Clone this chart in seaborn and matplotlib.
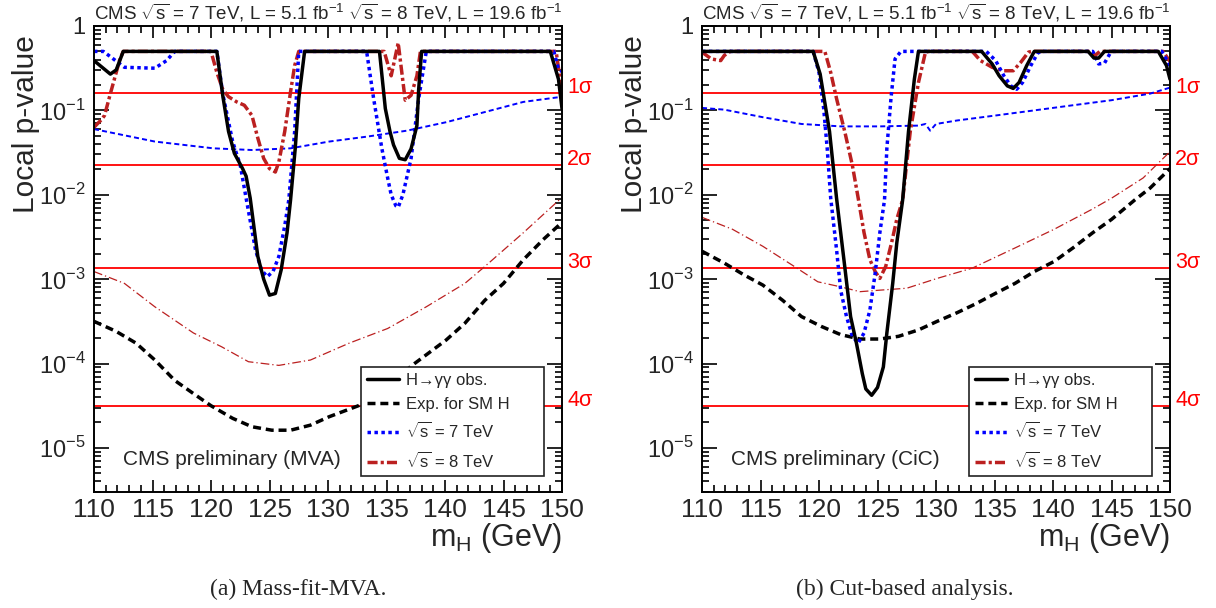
import numpy as np
import matplotlib
matplotlib.use("Agg")
import matplotlib.pyplot as plt
import matplotlib.transforms as mtransforms
from matplotlib.ticker import FixedLocator, FuncFormatter, MultipleLocator, LogLocator, NullFormatter
import seaborn as sns

# ---------------- data ----------------
# Left panel: Mass-fit-MVA
mva_obs_m = [110, 111.4, 111.9, 112.5, 120.5, 121.0, 121.5, 122.0, 122.7, 123.0, 123.35, 124.0, 124.5,
             125.0, 125.5, 126.0, 126.5, 126.8, 127.2, 127.5, 128.0, 134.4, 134.9, 135.3, 135.6, 136.1,
             136.6, 137.1, 137.6, 137.75, 138.0, 149.0, 149.7, 150]
mva_obs_p = [0.389, 0.269, 0.302, 0.5, 0.5, 0.151, 0.0562, 0.0309, 0.0204, 0.0166, 0.00912, 0.00186, 0.001,
             0.000646, 0.000676, 0.00129, 0.00355, 0.0087, 0.0355, 0.138, 0.5, 0.5, 0.105, 0.056, 0.039, 0.027,
             0.026, 0.035, 0.066, 0.178, 0.5, 0.5, 0.234, 0.105]

mva_7obs_m = [110, 110.8, 112.6, 115.2, 116.2, 116.9, 120.5, 121.0, 121.85, 122.5, 123.0, 123.8, 124.3,
              124.8, 125.3, 125.8, 126.3, 126.65, 127.15, 127.5, 133.3, 133.9, 134.6, 135.1, 135.4, 135.8,
              136.0, 136.4, 137.1, 137.75, 138.4, 149.3, 149.7, 150]
mva_7obs_p = [0.5, 0.5, 0.324, 0.316, 0.389, 0.5, 0.5, 0.158, 0.0427, 0.0224, 0.00912, 0.00224, 0.00129,
              0.00107, 0.00123, 0.00186, 0.00427, 0.0087, 0.0562, 0.5, 0.5, 0.138, 0.0355, 0.0158, 0.01, 0.0074,
              0.0071, 0.01, 0.0269, 0.138, 0.5, 0.5, 0.309, 0.288]

mva_8obs_m = [110, 110.65, 110.9, 111.4, 111.8, 112.2, 112.5, 120.0, 120.5, 121.0, 121.5, 122.2, 122.85,
              123.5, 124.0, 124.5, 125.0, 125.5, 125.8, 126.3, 126.8, 127.15, 127.5, 134.8, 135.4, 136.0,
              136.6, 137.1, 137.6, 137.9, 149.5, 150]
mva_8obs_p = [0.063, 0.078, 0.087, 0.158, 0.251, 0.398, 0.5, 0.5, 0.282, 0.178, 0.145, 0.126, 0.115,
              0.087, 0.047, 0.027, 0.0204, 0.0186, 0.0245, 0.056, 0.166, 0.339, 0.5, 0.5, 0.257, 0.63,
              0.132, 0.151, 0.257, 0.5, 0.5, 0.16]

mva_7exp_m = [110, 115.2, 120.2, 123.5, 126.8, 130.1, 133.4, 136.75, 140.1, 143.4, 146.7, 150]
mva_7exp_p = [0.060, 0.0427, 0.0355, 0.0339, 0.0355, 0.0427, 0.049, 0.0575, 0.0724, 0.0955, 0.126, 0.145]

mva_8exp_m = [110, 112.6, 115.2, 118.5, 120.9, 123.2, 125.8, 128.5, 131.8, 135.1, 138.4, 141.7, 143.4, 146.7, 150]
mva_8exp_p = [1.23e-3, 8.9e-4, 4.7e-4, 2.3e-4, 1.58e-4, 1.05e-4, 9.5e-5, 1.1e-4, 1.74e-4, 2.6e-4, 4.7e-4,
              8.9e-4, 1.41e-3, 3.55e-3, 9.3e-3]

mva_exp_m = [110, 111.9, 113.6, 115.2, 116.9, 118.5, 120.0, 121.85, 123.5, 125.2, 126.8, 128.5, 130.1,
             132.6, 135.0, 137.4, 140.1, 141.7, 143.4, 145.0, 146.7, 148.4, 150]
mva_exp_p = [3.16e-4, 2.4e-4, 1.74e-4, 1.1e-4, 6.3e-5, 4.4e-5, 3.16e-5, 2.24e-5, 1.78e-5, 1.62e-5, 1.62e-5,
             1.86e-5, 2.34e-5, 3.16e-5, 5.4e-5, 1.0e-4, 1.9e-4, 3.0e-4, 5.6e-4, 8.9e-4, 1.7e-3, 2.95e-3, 4.7e-3]

# Right panel: Cut-based (CiC)
cic_obs_m = [110, 119.5, 120.1, 120.9, 121.5, 122.2, 122.7, 123.2, 123.7, 124.0, 124.5, 125.0, 125.5, 125.8,
             126.3, 126.65, 127.15, 127.65, 128.15, 128.5, 133.9, 134.8, 135.4, 136.1, 136.6, 137.1, 137.75,
             138.4, 143.0, 143.5, 143.9, 144.4, 149.0, 149.7, 150]
cic_obs_p = [0.5, 0.5, 0.269, 0.0562, 0.00912, 0.00141, 3.6e-4, 1.74e-4, 7.6e-5, 5.0e-5, 4.2e-5, 5.2e-5, 9.1e-5,
             2.3e-4, 8.9e-4, 2.7e-3, 8.7e-3, 0.0562, 0.234, 0.5, 0.5, 0.355, 0.257, 0.195, 0.182, 0.214, 0.339,
             0.5, 0.5, 0.417, 0.417, 0.5, 0.5, 0.339, 0.234]

cic_7obs_m = [110, 119.5, 120.0, 120.4, 120.7, 121.0, 121.5, 121.85, 122.35, 122.85, 123.35, 123.85, 124.35,
              124.8, 125.2, 125.6, 125.8, 126.15, 126.5, 127.0, 134.3, 135.1, 135.8, 136.4, 136.9, 137.4, 138.1,
              138.7, 139.0, 143.4, 143.9, 144.4, 144.9, 145.1, 149.3, 150]
cic_7obs_p = [0.5, 0.5, 0.282, 0.105, 0.0355, 0.00912, 0.00224, 7.4e-4, 3.6e-4, 2.1e-4, 1.74e-4, 2.3e-4, 4.3e-4,
              1.17e-3, 3.55e-3, 8.7e-3, 0.0355, 0.138, 0.407, 0.5, 0.5, 0.389, 0.257, 0.195, 0.178, 0.214, 0.339,
              0.479, 0.5, 0.5, 0.355, 0.363, 0.479, 0.5, 0.5, 0.339]

cic_8obs_m = [110, 110.8, 111.6, 111.9, 112.4, 120.5, 121.0, 121.5, 122.2, 122.85, 123.35, 123.85, 124.35,
              124.8, 125.2, 125.7, 126.2, 126.65, 127.15, 127.8, 128.5, 129.1, 129.4, 133.1, 133.8, 134.8,
              135.8, 136.6, 137.25, 137.9, 138.2, 143.2, 143.6, 144.0, 149.4, 150]
cic_8obs_p = [0.49, 0.407, 0.389, 0.447, 0.5, 0.5, 0.282, 0.138, 0.0562, 0.0224, 0.00912, 0.00355, 0.0017,
              0.00123, 0.00102, 0.00141, 0.00269, 0.00513, 0.0087, 0.0562, 0.214, 0.49, 0.5, 0.5, 0.389, 0.324,
              0.295, 0.295, 0.372, 0.49, 0.5, 0.5, 0.447, 0.5, 0.5, 0.38]

cic_7exp_m = [110, 111.9, 115.2, 118.5, 121.85, 125.2, 128.5, 129.1, 129.5, 130.0, 131.8, 135.1, 138.4,
              141.7, 145.0, 148.3, 150]
cic_7exp_p = [0.107, 0.102, 0.083, 0.069, 0.0646, 0.0646, 0.066, 0.069, 0.0575, 0.069, 0.0759, 0.087, 0.1,
              0.115, 0.132, 0.158, 0.186]

cic_8exp_m = [110, 112.6, 115.2, 117.9, 119.9, 121.85, 123.5, 125.2, 127.5, 130.1, 133.1, 136.75, 140.1,
              143.4, 145.0, 147.7, 150]
cic_8exp_p = [5.4e-3, 3.9e-3, 2.45e-3, 1.41e-3, 9.3e-4, 8.1e-4, 7.1e-4, 7.4e-4, 7.8e-4, 1.02e-3, 1.35e-3,
              2.34e-3, 3.9e-3, 6.8e-3, 9.1e-3, 0.0158, 0.0324]

cic_exp_m = [110, 111.9, 113.6, 115.2, 116.9, 118.5, 120.2, 121.85, 123.5, 125.2, 126.8, 128.5, 130.1, 131.8,
             133.4, 135.1, 136.75, 138.4, 140.1, 141.7, 143.4, 145.0, 147.0, 148.3, 150]
cic_exp_p = [2.14e-3, 1.55e-3, 1.12e-3, 8.5e-4, 5.6e-4, 3.6e-4, 2.75e-4, 2.2e-4, 1.95e-4, 1.95e-4, 2.1e-4,
             2.5e-4, 3.16e-4, 4.0e-4, 5.1e-4, 6.8e-4, 8.9e-4, 1.23e-3, 1.62e-3, 2.34e-3, 3.55e-3, 5.1e-3, 8.7e-3,
             0.012, 0.0204]

sigma_p = [0.1587, 0.02275, 0.00135, 3.167e-5]
sigma_labels = ["1σ", "2σ", "3σ", "4σ"]

legend_labels = ["H→γγ obs.", "Exp. for SM H", r"$\sqrt{\mathrm{s}}$ = 7 TeV", r"$\sqrt{\mathrm{s}}$ = 8 TeV"]
y_ticks = [1e-5, 1e-4, 1e-3, 1e-2, 1e-1, 1]
title_text = (r"CMS $\sqrt{\mathrm{s}}$ = 7 TeV, L = 5.1 fb$^{-1}$ "
              r"$\sqrt{\mathrm{s}}$ = 8 TeV, L = 19.6 fb$^{-1}$")
panel_tags = ["CMS preliminary (MVA)", "CMS preliminary (CiC)"]
captions = ["(a) Mass-fit-MVA.", "(b) Cut-based analysis."]

# ---------------- style ----------------
sns.set_theme(style="ticks")
plt.rcParams["font.family"] = ["Liberation Sans", "DejaVu Sans"]
plt.rcParams["mathtext.fontset"] = "custom"
plt.rcParams["mathtext.rm"] = "Liberation Sans"
plt.rcParams["axes.edgecolor"] = "black"
plt.rcParams["axes.linewidth"] = 1.4

BLUE = "#0000ff"
DRED = "#bb2020"
RED = "#ff0000"

fig = plt.figure(figsize=(12.16, 6.08), dpi=100)

axes_rects = [[94 / 1216, 1 - 492 / 608, 468 / 1216, 466 / 608],
              [702 / 1216, 1 - 492 / 608, 468 / 1216, 466 / 608]]
caption_x = [298 / 1216, 905 / 1216]

panels = [
    dict(obs=(mva_obs_m, mva_obs_p), o7=(mva_7obs_m, mva_7obs_p), o8=(mva_8obs_m, mva_8obs_p),
         e7=(mva_7exp_m, mva_7exp_p), e8=(mva_8exp_m, mva_8exp_p), exp=(mva_exp_m, mva_exp_p)),
    dict(obs=(cic_obs_m, cic_obs_p), o7=(cic_7obs_m, cic_7obs_p), o8=(cic_8obs_m, cic_8obs_p),
         e7=(cic_7exp_m, cic_7exp_p), e8=(cic_8exp_m, cic_8exp_p), exp=(cic_exp_m, cic_exp_p)),
]


def line(ax, mp, color, lw, ls):
    m, p = mp
    sns.lineplot(x=m, y=p, ax=ax, color=color, lw=lw, linestyle=ls)
    return ax.lines[-1]


for i, pd_ in enumerate(panels):
    ax = fig.add_axes(axes_rects[i])
    for sp in sigma_p:
        sns.lineplot(x=[110, 150], y=[sp, sp], ax=ax, color=RED, lw=1.3)
    line(ax, pd_["e8"], DRED, 0.9, (0, (7, 2.4, 1, 2.4)))
    line(ax, pd_["e7"], BLUE, 1.4, (0, (2.6, 1.6)))
    h_exp = line(ax, pd_["exp"], "black", 2.5, (0, (2.3, 1.4)))
    h_o8 = line(ax, pd_["o8"], DRED, 2.5, (0, (2.9, 0.9, 0.9, 0.9)))
    h_o7 = line(ax, pd_["o7"], BLUE, 2.5, (0, (1, 1)))
    h_obs = line(ax, pd_["obs"], "black", 2.5, "-")

    ax.set_yscale("log")
    ax.set_xlim(110, 150)
    ax.set_ylim(3e-6, 1)
    ax.xaxis.set_major_locator(MultipleLocator(5))
    ax.xaxis.set_minor_locator(MultipleLocator(1))
    ax.yaxis.set_major_locator(FixedLocator(y_ticks))
    ax.yaxis.set_minor_locator(LogLocator(base=10, subs=np.arange(2, 10), numticks=20))
    ax.yaxis.set_minor_formatter(NullFormatter())
    ax.yaxis.set_major_formatter(FuncFormatter(
        lambda v, pos: "1" if abs(v - 1) < 1e-9 else r"$10^{%d}$" % int(round(np.log10(v)))))
    ax.tick_params(which="both", direction="in", top=True, right=True, color="black", width=1.2)
    ax.tick_params(axis="x", which="major", length=8.6, labelsize=19, pad=4)
    ax.tick_params(axis="y", which="major", length=10.8, labelsize=17, pad=6)
    ax.tick_params(which="minor", length=5)

    ax.set_xlabel(r"m$_{\mathrm{H}}$ (GeV)", fontsize=22, loc="right")
    ax.xaxis.set_label_coords(1.0, -(546 - 492) / 466)
    ax.xaxis.label.set_verticalalignment("baseline")
    ax.set_ylabel("Local p-value", fontsize=21.5, loc="top")
    ax.yaxis.set_label_coords(-0.115, 0.98)

    ax.text(0.5, 1 + 6 / 466, title_text, transform=ax.transAxes, ha="center", va="baseline", fontsize=13.5)
    ax.text(0.062, 0.07, panel_tags[i], transform=ax.transAxes, ha="left", va="center", fontsize=15)

    trans = mtransforms.blended_transform_factory(ax.transAxes, ax.transData)
    for sp, lab in zip(sigma_p, sigma_labels):
        ax.text(1.0107, sp, lab, transform=trans, color=RED, fontsize=15.5, ha="left", va="baseline",
                clip_on=False)

    leg = ax.legend([h_obs, h_exp, h_o7, h_o8], legend_labels, loc="upper left",
                    bbox_to_anchor=(267 / 468, 11 / 466, 183 / 468, 114 / 466), mode="expand",
                    fontsize=12, frameon=True, fancybox=False, borderpad=0.35, labelspacing=0.55,
                    handlelength=1.95, handletextpad=0.4, borderaxespad=0, framealpha=1,
                    edgecolor="#222222")
    leg.get_frame().set_linewidth(1.2)

    fig.text(caption_x[i], 1 - 589 / 608, captions[i], family=["Liberation Serif", "DejaVu Serif"],
             fontsize=17, ha="center", va="center")

fig.savefig("out.png", dpi=100, facecolor="white")
